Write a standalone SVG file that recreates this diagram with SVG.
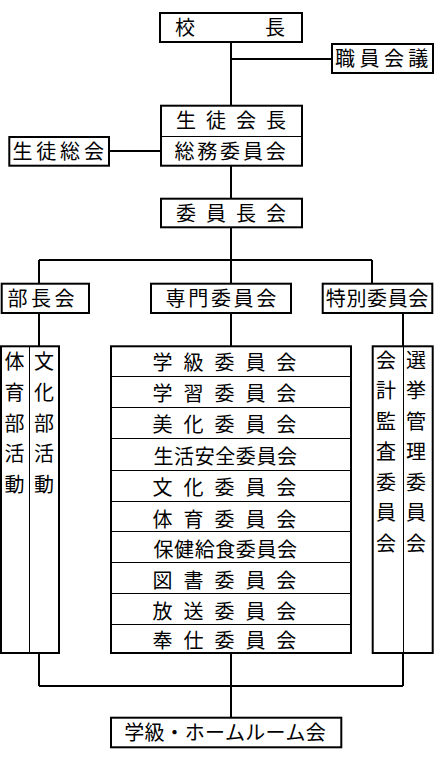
<svg xmlns="http://www.w3.org/2000/svg" width="434" height="768" viewBox="0 0 434 768">
<style>
.box{fill:#fff;stroke:#000;stroke-width:2}
.div{stroke:#000;stroke-width:1;fill:none}
.con{stroke:#000;stroke-width:2;fill:none}
text{font-family:"Noto Sans CJK JP","Noto Sans CJK SC",sans-serif;font-size:20px;fill:#000;text-anchor:middle}
</style>
<rect width="434" height="768" fill="#fff"/>
<g id="connectors">
<path class="con" d="M231 42V105M231 59H332M110 151H160M231 166V198M231 228V260M39 260H372M39 260V283M231 260V283M372 260V283M39 313V346M231 313V346M403 313V346M39 653V686M403 653V686M39 686H403M231 653V717"/>
</g>
<g id="kocho">
<rect class="box" x="160" y="13" width="142" height="29"/>
<text x="185 275" y="35">校長</text>
</g>
<g id="shokuin">
<rect class="box" x="332" y="44" width="101" height="29"/>
<text x="345 369.4 393.9 418.3" y="66">職員会議</text>
</g>
<g id="seitokaicho">
<rect class="box" x="161" y="105.7" width="141" height="60"/>
<line class="div" x1="161" y1="136.5" x2="302" y2="136.5"/>
<text x="186 216 246 276" y="128">生徒会長</text>
<text x="184.5 207.3 230.1 253 275.8" y="158.5">総務委員会</text>
</g>
<g id="seitosokai">
<rect class="box" x="9.3" y="137" width="99.7" height="28.7"/>
<text x="22.5 46.3 70.1 94" y="158.5">生徒総会</text>
</g>
<g id="iinchokai">
<rect class="box" x="161" y="198.7" width="141" height="28.6"/>
<text x="186 216 246 276" y="220.5">委員長会</text>
</g>
<g id="buchokai">
<rect class="box" x="1.7" y="283.7" width="87.3" height="29.3"/>
<text x="17.5 41 64.5" y="306">部長会</text>
</g>
<g id="senmon">
<rect class="box" x="151" y="283.7" width="140" height="29.3"/>
<text x="175.5 198.2 220.9 243.6 266.3" y="306">専門委員会</text>
</g>
<g id="tokubetsu">
<rect class="box" x="322.7" y="283.7" width="109.6" height="29.3"/>
<text x="335.8 356.4 377 397.7 418.3" y="306">特別委員会</text>
</g>
<g id="bukatsudo">
<rect class="box" x="1" y="346.3" width="58" height="306.7"/>
<line class="div" x1="29.5" y1="346.3" x2="29.5" y2="653"/>
<text x="14.5 14.5 14.5 14.5 14.5" y="369 399.8 430.6 461.4 492.2">体育部活動</text>
<text x="44 44 44 44 44" y="369 399.8 430.6 461.4 492.2">文化部活動</text>
</g>
<g id="iinkai">
<rect class="box" x="111" y="346.3" width="240" height="306.7"/>
<path class="div" d="M111 376.5H351M111 407.5H351M111 438.5H351M111 470.5H351M111 501.5H351M111 531.5H351M111 562.5H351M111 593.5H351M111 624.5H351"/>
<text x="162.5 193.5 224.4 255.4 286.3" y="370">学級委員会</text>
<text x="162.5 193.5 224.4 255.4 286.3" y="400.8">学習委員会</text>
<text x="162.5 193.5 224.4 255.4 286.3" y="432.2">美化委員会</text>
<text x="163.5 184.1 204.7 225.3 245.8 266.4 287" y="463.7">生活安全委員会</text>
<text x="162.5 193.5 224.4 255.4 286.3" y="495">文化委員会</text>
<text x="162.5 193.5 224.4 255.4 286.3" y="526.5">体育委員会</text>
<text x="163.5 184.1 204.7 225.3 245.8 266.4 287" y="556.7">保健給食委員会</text>
<text x="162.5 193.5 224.4 255.4 286.3" y="588.3">図書委員会</text>
<text x="162.5 193.5 224.4 255.4 286.3" y="618.5">放送委員会</text>
<text x="162.5 193.5 224.4 255.4 286.3" y="648.3">奉仕委員会</text>
</g>
<g id="tokubetsu-iinkai">
<rect class="box" x="372.7" y="346.3" width="60" height="306.7"/>
<line class="div" x1="403.5" y1="346.3" x2="403.5" y2="653"/>
<text x="386 386 386 386 386 386 386" y="367.5 398 428.5 459 489.5 520 550.5">会計監査委員会</text>
<text x="416 416 416 416 416 416 416" y="367.5 398 428.5 459 489.5 520 550.5">選挙管理委員会</text>
</g>
<g id="hr">
<rect class="box" x="111" y="717.7" width="230.3" height="29.6"/>
<text x="134.2 154.4 174.6 194.7 214.9 235.1 255.3 275.5 295.6 315.8" y="739.5">学級・ホームルーム会</text>
</g>
</svg>
